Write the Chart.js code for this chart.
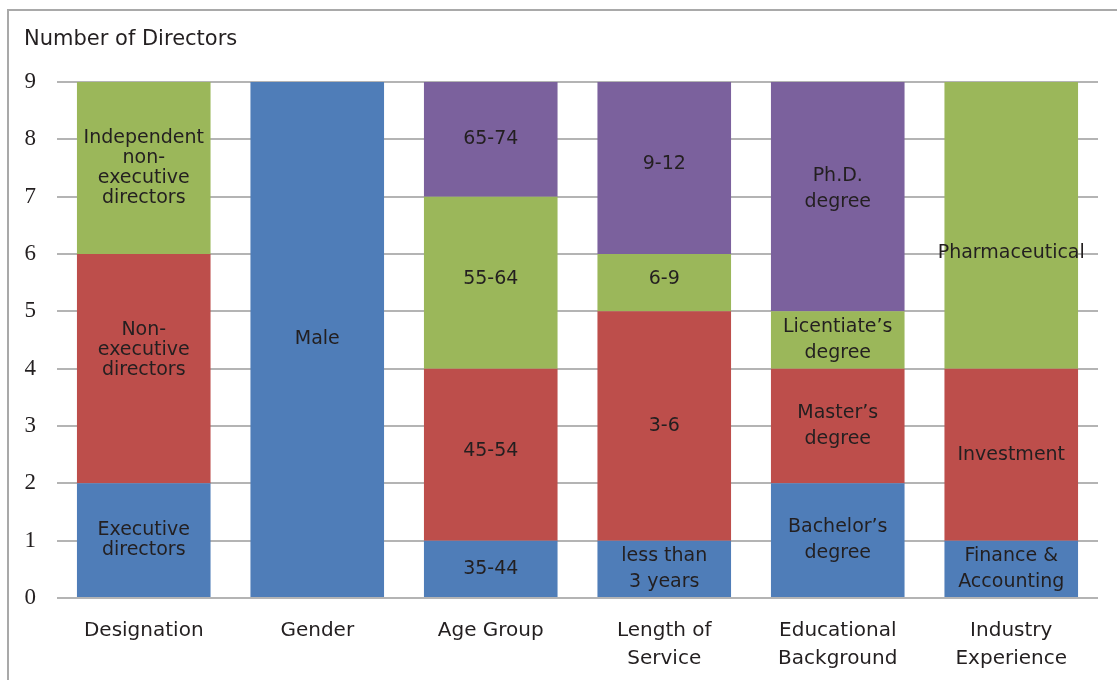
<!DOCTYPE html>
<html>
<head>
<meta charset="utf-8">
<script src="https://cdn.jsdelivr.net/npm/chart.js@4.4.1/dist/chart.umd.min.js"></script>
<style>
  html,body{margin:0;padding:0;background:#fff;}
  #wrap{width:1117px;height:680px;position:relative;}
</style>
</head>
<body>
<div id="wrap"><canvas id="c"></canvas></div>
<script>
// ===== data =====
const categories = [["Designation"],["Gender"],["Age Group"],["Length of","Service"],["Educational","Background"],["Industry","Experience"]];
const blueVals   = [2, 9, 1, 1, 2, 1];
const redVals    = [4, 0, 3, 4, 2, 3];
const greenVals  = [3, 0, 3, 1, 1, 5];
const purpleVals = [0, 0, 2, 3, 4, 0];
const blueLabels   = ["Executive\ndirectors","Male","35-44","less than\n3 years","Bachelor’s\ndegree","Finance &\nAccounting"];
const redLabels    = ["Non-\nexecutive\ndirectors","","45-54","3-6","Master’s\ndegree","Investment"];
const greenLabels  = ["Independent\nnon-\nexecutive\ndirectors","","55-64","6-9","Licentiate’s\ndegree","Pharmaceutical"];
const purpleLabels = ["","","65-74","9-12","Ph.D.\ndegree",""];
const yTicks = [0,1,2,3,4,5,6,7,8,9];

const TXT = "#231f20";
const SANS = "'DejaVu Sans', 'Open Sans', sans-serif";

// frame + title
const framePlugin = {
  id:"frame",
  beforeDraw(chart){
    const c = chart.ctx;
    c.save();
    c.strokeStyle = "#a9a9a9"; c.lineWidth = 2;
    c.strokeRect(8, 10, 1130, 690);
    c.fillStyle = TXT;
    c.font = "21px " + SANS;
    c.textBaseline = "middle"; c.textAlign = "left";
    c.fillText("Number of Directors", 24, 40);
    c.restore();
  }
};

// labels inside segments (small manual nudges like the hand-placed text boxes)
const nudge = { "1,0": -19, "2,5": 28, "3,4": -8, "2,2": -4, "1,2": -4, "3,3": -4, "2,3": -4 };
const segLabels = {
  id:"segLabels",
  afterDatasetsDraw(chart){
    const c = chart.ctx;
    c.save();
    c.fillStyle = TXT;
    c.font = "19px " + SANS;
    c.textAlign = "center"; c.textBaseline = "middle";
    chart.data.datasets.forEach((ds, di) => {
      const meta = chart.getDatasetMeta(di);
      meta.data.forEach((bar, i) => {
        const txt = ds.segLabels[i];
        if(!txt || !ds.data[i]) return;
        const lines = txt.split("\n");
        const cy = (bar.y + bar.base) / 2 + (nudge[di + "," + i] || 0);
        const lh = i === 0 ? 20 : 26;
        lines.forEach((ln, k) => {
          c.fillText(ln, bar.x, cy + (k - (lines.length-1)/2) * lh);
        });
      });
    });
    c.restore();
  }
};

const mk = (data, color, labels) => ({ data, backgroundColor: color, segLabels: labels, borderWidth: 0,
  categoryPercentage: 1, barPercentage: 0.77 });

new Chart(document.getElementById("c"), {
  type: "bar",
  data: {
    labels: categories,
    datasets: [
      mk(blueVals,   "#4f7db8", blueLabels),
      mk(redVals,    "#bd4e4b", redLabels),
      mk(greenVals,  "#9bb75a", greenLabels),
      mk(purpleVals, "#7b619d", purpleLabels)
    ]
  },
  options: {
    responsive: true, maintainAspectRatio: false, animation: false,
    layout: { padding: { left: 0, right: 19, top: 82, bottom: 0 } },
    plugins: { legend: { display: false }, tooltip: { enabled: false } },
    scales: {
      x: {
        stacked: true,
        grid: { display: false },
        border: { display: false },
        ticks: { color: TXT, font: { family: SANS, size: 20, lineHeight: 1.4 }, padding: 11, maxRotation: 0 },
        afterFit(s){ s.height = 82; }
      },
      y: {
        stacked: true, min: 0, max: 9,
        afterBuildTicks(s){ s.ticks = yTicks.map(v => ({ value: v })); },
        grid: { color: "#b4b4b4", lineWidth: 2, drawTicks: false },
        border: { display: false },
        ticks: { color: TXT, font: { family: "'Liberation Serif', serif", size: 23 }, padding: 21 },
        afterFit(s){ s.width = 57; }
      }
    }
  },
  plugins: [framePlugin, segLabels]
});
</script>
</body>
</html>
